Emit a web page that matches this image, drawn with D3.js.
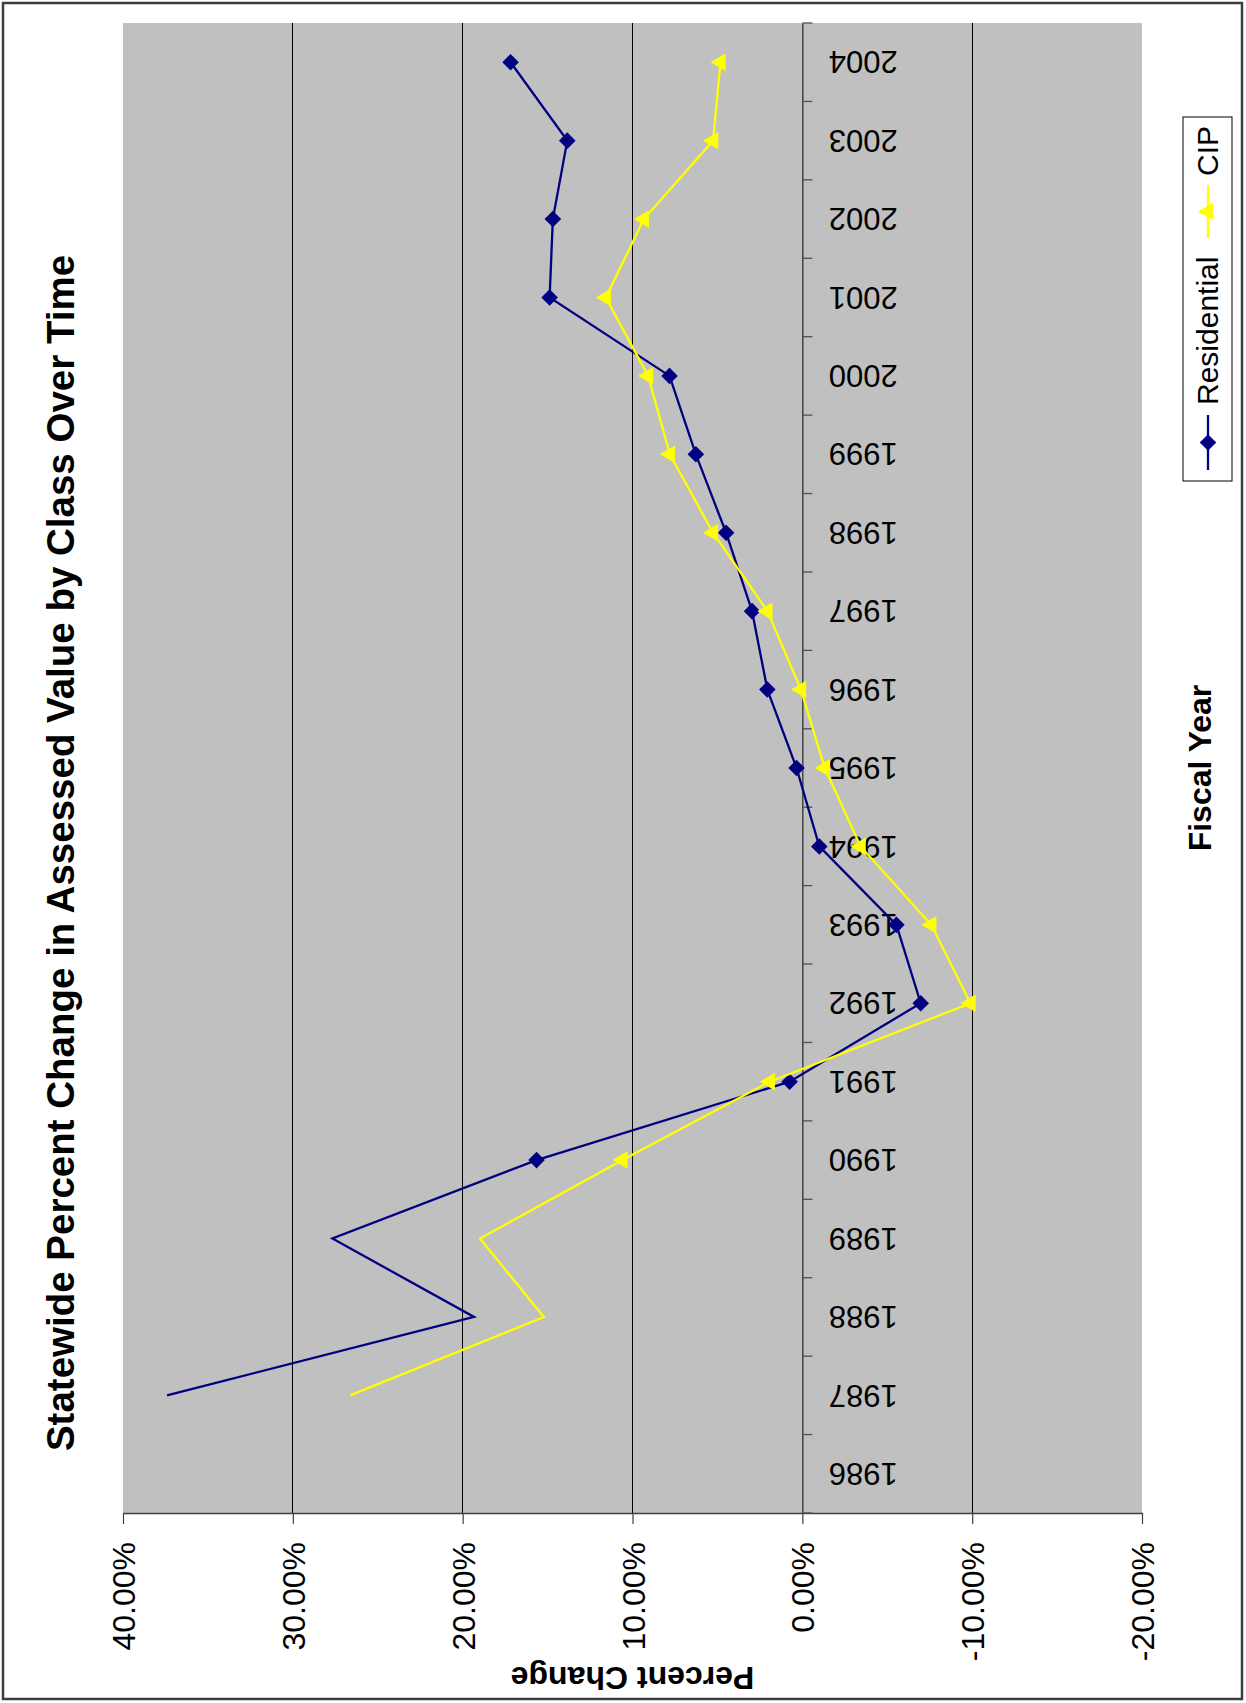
<!DOCTYPE html>
<html>
<head>
<meta charset="utf-8">
<script src="https://cdn.jsdelivr.net/npm/d3@7"></script>
<style>
  html, body { margin: 0; padding: 0; background: #ffffff; }
  svg { display: block; }
  text { font-family: "Liberation Sans", Arial, sans-serif; fill: #000; }
</style>
</head>
<body>
<svg id="chart" width="1246" height="1703"></svg>
<script>
// Fiscal years (category axis)
const years = [1986, 1987, 1988, 1989, 1990, 1991, 1992, 1993, 1994, 1995,
               1996, 1997, 1998, 1999, 2000, 2001, 2002, 2003, 2004];

// Percent change in assessed value, by class
const residential = [null, 37.41, 19.33, 27.67, 15.65, 0.75, -6.97, -5.54, -1.00, 0.34,
                     2.06, 2.96, 4.49, 6.27, 7.82, 14.88, 14.69, 13.84, 17.18];
const cip = [null, 26.63, 15.22, 18.98, 10.59, 1.92, -9.90, -7.59, -3.43, -1.32,
             0.08, 2.06, 5.26, 7.80, 9.08, 11.57, 9.33, 5.25, 4.82];

// Years whose points carry a marker
const markedYears = [1990, 1991, 1992, 1993, 1994, 1995, 1996, 1997, 1998, 1999,
                     2000, 2001, 2002, 2003, 2004];

// Value axis ticks
const valueTicks = [40, 30, 20, 10, 0, -10, -20];
const gridTicks = [30, 20, 10, -10];

const seriesNames = ["Residential", "CIP"];
const titleText = "Statewide Percent Change in Assessed Value by Class Over Time";
const valueTitle = "Percent Change";
const categoryTitle = "Fiscal Year";

const svg = d3.select("#chart");

// Plot area (the chart is laid out turned on its side)
const plot = { left: 123, right: 1142, top: 23, bottom: 1513 };

const x = d3.scaleLinear().domain([40, -20]).range([plot.left, plot.right]);
const y = d3.scaleBand().domain(years).range([plot.bottom, plot.top]).paddingInner(0).paddingOuter(0);
const yc = yr => y(yr) + y.bandwidth() / 2;

// Outer chart border
svg.append("rect")
  .attr("x", 3).attr("y", 3).attr("width", 1239).attr("height", 1696)
  .attr("fill", "#fff").attr("stroke", "#3c3c3c").attr("stroke-width", 2.5);

// Plot background
svg.append("rect")
  .attr("x", plot.left).attr("y", plot.top)
  .attr("width", plot.right - plot.left).attr("height", plot.bottom - plot.top)
  .attr("fill", "#c0c0c0");

// Major gridlines
svg.append("g").selectAll("line").data(gridTicks).join("line")
  .attr("x1", d => x(d)).attr("x2", d => x(d))
  .attr("y1", plot.top).attr("y2", plot.bottom)
  .attr("stroke", "#000").attr("stroke-width", 1)
  .attr("shape-rendering", "crispEdges");

// Value axis along the bottom
const fmt = d => d.toFixed(2) + "%";
const xAxis = svg.append("g")
  .attr("transform", `translate(0,${plot.bottom})`)
  .call(d3.axisBottom(x).tickValues(valueTicks).tickFormat(fmt).tickSizeInner(11).tickSizeOuter(0));
xAxis.select(".domain").attr("stroke", "#404040").attr("stroke-width", 1.5);
xAxis.selectAll(".tick line").attr("stroke", "#404040").attr("stroke-width", 1.2);
xAxis.selectAll(".tick text")
  .attr("transform", "rotate(-90)")
  .attr("text-anchor", "end")
  .attr("x", -29).attr("y", 0).attr("dy", "0.36em")
  .attr("fill", "#000")
  .style("font-size", "32px")
  .style("font-family", "'Liberation Sans', Arial, sans-serif");

// Category axis at 0%
const catAxis = svg.append("g")
  .attr("transform", `translate(${x(0)},0)`)
  .call(d3.axisRight(y).tickSize(0).tickPadding(0));
catAxis.select(".domain").attr("stroke", "#303030").attr("stroke-width", 1.3);
catAxis.selectAll(".tick text")
  .attr("transform", "translate(61,0) rotate(180)")
  .attr("text-anchor", "middle")
  .attr("x", 0).attr("dy", "0.35em")
  .attr("fill", "#000")
  .style("font-size", "31px")
  .style("font-family", "'Liberation Sans', Arial, sans-serif");
// tick marks on band boundaries
const boundaries = years.map(yr => y(yr)).concat([y(years[0]) + y.bandwidth()]);
catAxis.append("g").selectAll("line").data(boundaries).join("line")
  .attr("x1", 0).attr("x2", 10)
  .attr("y1", d => d).attr("y2", d => d)
  .attr("stroke", "#505050").attr("stroke-width", 1.3);

// Series lines and markers
const series = [
  { name: seriesNames[0], values: residential, color: "#000080", marker: "diamond" },
  { name: seriesNames[1], values: cip, color: "#ffff00", marker: "triangle" }
];

const diamond = d3.symbol().type(d3.symbolSquare).size(115);
const triangle = d3.symbol().type(d3.symbolTriangle).size(112);

const line = d3.line()
  .defined(d => d.v !== null)
  .x(d => x(d.v))
  .y(d => yc(d.year));

series.forEach(s => {
  const pts = years.map((year, i) => ({ year, v: s.values[i] }));
  svg.append("path")
    .datum(pts)
    .attr("d", line)
    .attr("fill", "none")
    .attr("stroke", s.color)
    .attr("stroke-width", 2.3)
    .attr("stroke-linejoin", "miter");

  const marked = pts.filter(d => d.v !== null && markedYears.includes(d.year));
  svg.append("g").selectAll("path").data(marked).join("path")
    .attr("d", s.marker === "diamond" ? diamond() : triangle())
    .attr("transform", d => s.marker === "diamond"
      ? `translate(${x(d.v)},${yc(d.year)}) rotate(45)`
      : `translate(${x(d.v)},${yc(d.year)}) rotate(-90)`)
    .attr("fill", s.color)
    .attr("stroke", s.color)
    .attr("stroke-width", 1);
});

// Chart title
svg.append("text")
  .attr("transform", `translate(74,853) rotate(-90)`)
  .attr("text-anchor", "middle")
  .style("font-size", "38.5px")
  .style("font-weight", "bold")
  .text(titleText);

// Value axis title
svg.append("text")
  .attr("transform", `translate(${(plot.left + plot.right) / 2},1667) rotate(180)`)
  .attr("text-anchor", "middle")
  .style("font-size", "32px")
  .style("font-weight", "bold")
  .text(valueTitle);

// Category axis title
svg.append("text")
  .attr("transform", `translate(1211,${(plot.top + plot.bottom) / 2}) rotate(-90)`)
  .attr("text-anchor", "middle")
  .style("font-size", "32px")
  .style("font-weight", "bold")
  .text(categoryTitle);

// Legend (drawn in its own turned frame)
const legend = svg.append("g").attr("transform", "translate(1183,481) rotate(-90)");
legend.append("rect")
  .attr("x", 0).attr("y", 0).attr("width", 364).attr("height", 49)
  .attr("fill", "#fff").attr("stroke", "#000").attr("stroke-width", 1);

const legendItems = [
  { s: series[0], x0: 11, x1: 66, tx: 76 },
  { s: series[1], x0: 243, x1: 296, tx: 305 }
];
legendItems.forEach(it => {
  legend.append("line")
    .attr("x1", it.x0).attr("x2", it.x1).attr("y1", 25).attr("y2", 25)
    .attr("stroke", it.s.color).attr("stroke-width", 2.3);
  const mx = (it.x0 + it.x1) / 2;
  legend.append("path")
    .attr("d", it.s.marker === "diamond" ? diamond() : triangle())
    .attr("transform", it.s.marker === "diamond"
      ? `translate(${mx},25) rotate(45)` : `translate(${mx},25)`)
    .attr("fill", it.s.color).attr("stroke", it.s.color).attr("stroke-width", 1);
  legend.append("text")
    .attr("x", it.tx).attr("y", 35)
    .style("font-size", "30px")
    .text(it.s.name);
});
</script>
</body>
</html>
